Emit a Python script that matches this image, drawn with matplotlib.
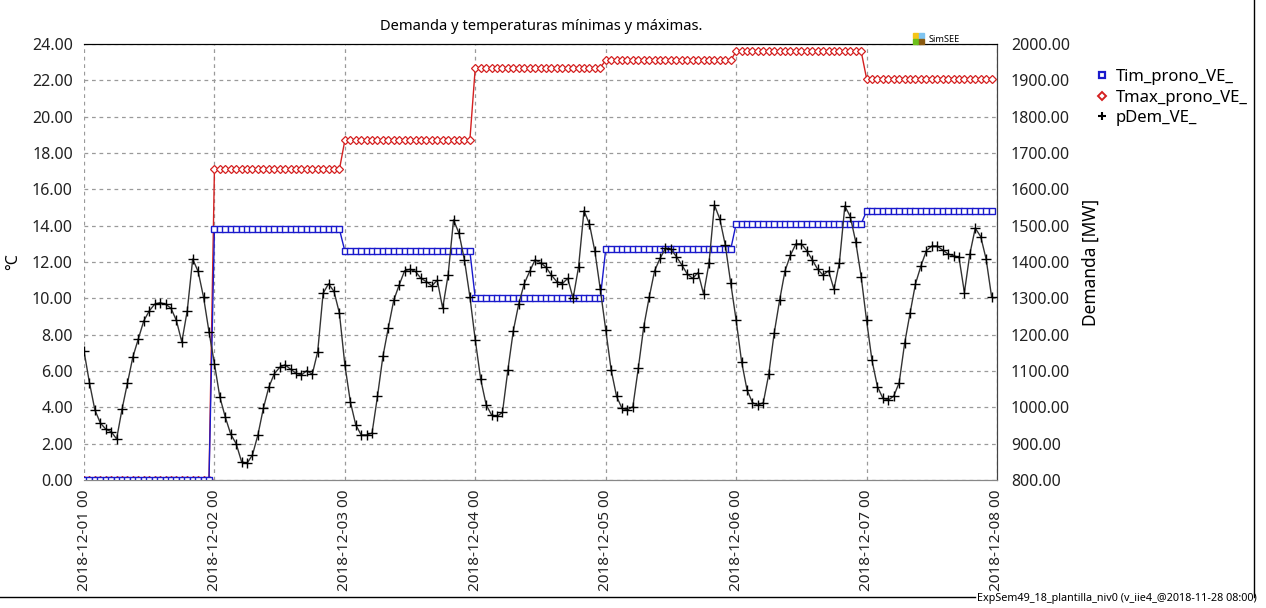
import numpy as np
import pandas as pd
import matplotlib
matplotlib.use("Agg")
import matplotlib.pyplot as plt
import matplotlib.dates as mdates
from matplotlib.lines import Line2D
from matplotlib.patches import Rectangle

plt.rcParams["font.family"] = ["Noto Sans", "DejaVu Sans"]

# hourly time axis, 2018-12-01 00 .. 2018-12-07 23
hours = pd.date_range("2018-12-01 00:00", periods=168, freq="h")

# daily forecast temperatures (step per day), degC
tmin_daily = [0.0, 13.8, 12.6, 10.0, 12.7, 14.1, 14.8]
tmax_daily = [0.0, 17.1, 18.7, 22.7, 23.1, 23.6, 22.1]

# hourly demand, MW (one row per day)
dem_d1 = [1155, 1068, 993, 957, 940, 933, 913, 995, 1067, 1139, 1189, 1238,
          1265, 1284, 1288, 1284, 1273, 1239, 1180, 1266, 1408, 1374, 1303, 1208]
dem_d2 = [1120, 1028, 973, 926, 900, 850, 846, 869, 924, 997, 1055, 1092,
          1110, 1117, 1105, 1094, 1089, 1101, 1091, 1153, 1314, 1340, 1319, 1259]
dem_d3 = [1117, 1016, 952, 924, 924, 929, 1030, 1140, 1219, 1295, 1337, 1376,
          1380, 1374, 1355, 1346, 1334, 1350, 1273, 1364, 1516, 1479, 1406, 1305]
dem_d4 = [1185, 1077, 1007, 979, 975, 986, 1103, 1211, 1285, 1340, 1374, 1406,
          1398, 1386, 1364, 1346, 1340, 1355, 1300, 1386, 1541, 1505, 1430, 1325]
dem_d5 = [1213, 1103, 1030, 997, 993, 1002, 1108, 1222, 1303, 1376, 1410, 1438,
          1435, 1415, 1392, 1367, 1355, 1371, 1312, 1396, 1557, 1518, 1447, 1342]
dem_d6 = [1240, 1126, 1048, 1013, 1006, 1013, 1091, 1204, 1295, 1376, 1419, 1450,
          1450, 1431, 1406, 1380, 1364, 1376, 1325, 1398, 1554, 1525, 1456, 1360]
dem_d7 = [1239, 1129, 1057, 1025, 1020, 1031, 1068, 1176, 1259, 1340, 1389, 1431,
          1444, 1444, 1433, 1422, 1417, 1413, 1316, 1422, 1493, 1470, 1408, 1305]
demand = dem_d1 + dem_d2 + dem_d3 + dem_d4 + dem_d5 + dem_d6 + dem_d7

tmin = np.repeat(tmin_daily, 24)
tmax = np.repeat(tmax_daily, 24)

BLUE = "#1a1acc"
RED = "#d42020"
GRID = "#9a9a9a"

fig = plt.figure(figsize=(12.66, 6.08), dpi=100)
ax = fig.add_axes([84 / 1266, 1 - 480 / 608, (997 - 84) / 1266, (480 - 44) / 608])
ax2 = ax.twinx()

ax.plot(hours, tmax, color=RED, lw=1.0, marker="D", ms=3.6, mfc="white",
        mec=RED, mew=0.9, zorder=3)
ax.plot(hours, tmin, color=BLUE, lw=1.0, marker="s", ms=4.2, mfc="white",
        mec=BLUE, mew=1.0, zorder=3)
ax2.plot(hours, demand, color="#333333", lw=1.0, marker="+", ms=7,
         mec="black", mew=1.0, zorder=4)

ax.set_ylim(0, 24)
ax.set_yticks(np.arange(0, 24.1, 2))
ax.yaxis.set_major_formatter(plt.FormatStrFormatter("%.2f"))
ax2.set_ylim(800, 2000)
ax2.set_yticks(np.arange(800, 2001, 100))
ax2.yaxis.set_major_formatter(plt.FormatStrFormatter("%.2f"))

ax.set_xlim(pd.Timestamp("2018-12-01"), pd.Timestamp("2018-12-08"))
ax.xaxis.set_major_locator(mdates.DayLocator())
ax.xaxis.set_major_formatter(mdates.DateFormatter("%Y-%m-%d %H"))
for lab in ax.get_xticklabels():
    lab.set_rotation(90)

for a in (ax, ax2):
    a.tick_params(length=0, labelsize=11.5, colors="#222222", pad=4)
    a.spines["left"].set_visible(False)
    a.spines["top"].set_color("black")
    a.spines["bottom"].set_color("#888888")
    a.spines["right"].set_color("#444444")
ax.tick_params(axis="x", pad=7, labelsize=11)
ax.tick_params(axis="y", pad=8)
ax2.tick_params(axis="y", pad=10)

ax.grid(True, color=GRID, ls=(0, (3, 3)), lw=0.9)
ax.set_axisbelow(True)
ax.set_ylabel("°C", fontsize=11.5, labelpad=8)
ax2.set_ylabel("Demanda [MW]", fontsize=12.5, labelpad=8)

fig.text(541 / 1266, 1 - 26 / 608, "Demanda y temperaturas mínimas y máximas.",
         ha="center", va="center", fontsize=10.6)

# SimSEE logo
logo_cols = [("#f5c518", 0, 1), ("#7fc4f0", 1, 1), ("#6cbf1a", 0, 0), ("#8a5a10", 1, 0)]
for col, i, j in logo_cols:
    fig.patches.append(Rectangle(((913 + i * 6) / 1266, 1 - (44 - j * 6) / 608),
                                 5 / 1266, 5 / 608, transform=fig.transFigure,
                                 color=col, zorder=10))
fig.text(929 / 1266, 1 - 40 / 608, "SimSEE", fontsize=6.6, va="center", ha="left")

handles = [
    Line2D([], [], ls="none", marker="s", ms=4.5, mfc="white", mec=BLUE, mew=1.6),
    Line2D([], [], ls="none", marker="D", ms=4, mfc="white", mec=RED, mew=1.4),
    Line2D([], [], ls="none", marker="+", ms=6, mec="black", mew=1.5),
]
fig.legend(handles, ["Tim_prono_VE_", "Tmax_prono_VE_", "pDem_VE_"],
           loc="upper left", bbox_to_anchor=(1080 / 1266, 1 - 54 / 608),
           frameon=False, fontsize=12, handlelength=0.8, handletextpad=0.45,
           labelspacing=0.28)

# outer frame lines and footer
fig.add_artist(Line2D([1254 / 1266, 1254 / 1266], [1, 1 - 597 / 608],
                      transform=fig.transFigure, color="black", lw=1))
fig.add_artist(Line2D([0, 975 / 1266], [1 - 597 / 608, 1 - 597 / 608],
                      transform=fig.transFigure, color="black", lw=1))
fig.text(1257 / 1266, 1 - 598 / 608,
         "ExpSem49_18_plantilla_niv0 (v_iie4_@2018-11-28 08:00)",
         ha="right", va="center", fontsize=7.8)

fig.savefig("out.png", dpi=100)
